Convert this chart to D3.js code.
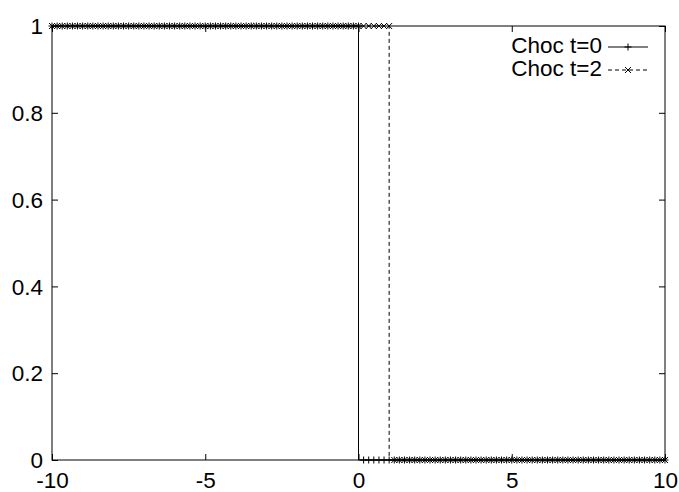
<!DOCTYPE html>
<html><head><meta charset="utf-8">
<script src="https://cdn.jsdelivr.net/npm/d3@7/dist/d3.min.js"></script>
<style>body{margin:0;background:#fff}svg{display:block}</style>
</head><body>
<script>
const xValues = [
-10,-9.833,-9.667,-9.5,-9.333,-9.167,
-9,-8.833,-8.667,-8.5,-8.333,-8.167,
-8,-7.833,-7.667,-7.5,-7.333,-7.167,
-7,-6.833,-6.667,-6.5,-6.333,-6.167,
-6,-5.833,-5.667,-5.5,-5.333,-5.167,
-5,-4.833,-4.667,-4.5,-4.333,-4.167,
-4,-3.833,-3.667,-3.5,-3.333,-3.167,
-3,-2.833,-2.667,-2.5,-2.333,-2.167,
-2,-1.833,-1.667,-1.5,-1.333,-1.167,
-1,-0.833,-0.667,-0.5,-0.333,-0.167,
0,0.167,0.333,0.5,0.667,0.833,
1,1.167,1.333,1.5,1.667,1.833,
2,2.167,2.333,2.5,2.667,2.833,
3,3.167,3.333,3.5,3.667,3.833,
4,4.167,4.333,4.5,4.667,4.833,
5,5.167,5.333,5.5,5.667,5.833,
6,6.167,6.333,6.5,6.667,6.833,
7,7.167,7.333,7.5,7.667,7.833,
8,8.167,8.333,8.5,8.667,8.833,
9,9.167,9.333,9.5,9.667,9.833,
10];
const chocT0 = [
1,1,1,1,1,1, 1,1,1,1,1,1, 1,1,1,1,1,1, 1,1,1,1,1,1, 1,1,1,1,1,1,
1,1,1,1,1,1, 1,1,1,1,1,1, 1,1,1,1,1,1, 1,1,1,1,1,1, 1,1,1,1,1,1,
1,0,0,0,0,0, 0,0,0,0,0,0, 0,0,0,0,0,0, 0,0,0,0,0,0, 0,0,0,0,0,0,
0,0,0,0,0,0, 0,0,0,0,0,0, 0,0,0,0,0,0, 0,0,0,0,0,0, 0,0,0,0,0,0,
0];
const chocT2 = [
1,1,1,1,1,1, 1,1,1,1,1,1, 1,1,1,1,1,1, 1,1,1,1,1,1, 1,1,1,1,1,1,
1,1,1,1,1,1, 1,1,1,1,1,1, 1,1,1,1,1,1, 1,1,1,1,1,1, 1,1,1,1,1,1,
1,1,1,1,1,1, 1,0,0,0,0,0, 0,0,0,0,0,0, 0,0,0,0,0,0, 0,0,0,0,0,0,
0,0,0,0,0,0, 0,0,0,0,0,0, 0,0,0,0,0,0, 0,0,0,0,0,0, 0,0,0,0,0,0,
0];
const seriesNames = ["Choc t=0", "Choc t=2"];
const xTicks = [-10, -5, 0, 5, 10];
const xTickLabels = ["-10", "-5", "0", "5", "10"];
const yTicks = [0, 0.2, 0.4, 0.6, 0.8, 1];
const yTickLabels = ["0", "0.2", "0.4", "0.6", "0.8", "1"];

const W = 679, H = 492;
const L = 52, R = 665, T = 26, B = 460;
const FONT = "'Liberation Sans', Arial, Helvetica, sans-serif";
const FS = 22.5;

const svg = d3.select("body").append("svg").attr("width", W).attr("height", H)
  .style("font-family", FONT);

const x = d3.scaleLinear().domain([-10, 10]).range([L, R]);
const y = d3.scaleLinear().domain([0, 1]).range([B, T]);

function styleAxis(g, showText) {
  g.select(".domain").remove();
  g.selectAll(".tick line").attr("stroke", "#000").attr("stroke-width", 1);
  g.selectAll(".tick text").attr("fill", "#000").style("font-size", FS + "px")
    .style("font-family", FONT);
  if (!showText) g.selectAll(".tick text").remove();
}

svg.append("g").attr("transform", `translate(${L},0)`)
  .call(d3.axisLeft(y).tickValues(yTicks).tickSize(-6).tickPadding(9)
    .tickFormat((d, i) => yTickLabels[i]))
  .call(g => styleAxis(g, true))
  .call(g => g.selectAll(".tick text").attr("dy", "0.34em"));
svg.append("g").attr("transform", `translate(${R},0)`)
  .call(d3.axisRight(y).tickValues(yTicks).tickSize(-6))
  .call(g => styleAxis(g, false));
svg.append("g").attr("transform", `translate(0,${B})`)
  .call(d3.axisBottom(x).tickValues(xTicks).tickSize(-6).tickPadding(12)
    .tickFormat((d, i) => xTickLabels[i]))
  .call(g => styleAxis(g, true))
  .call(g => g.selectAll(".tick text").attr("dy", "0.7em"));
svg.append("g").attr("transform", `translate(0,${T})`)
  .call(d3.axisTop(x).tickValues(xTicks).tickSize(-6))
  .call(g => styleAxis(g, false));

svg.append("rect").attr("x", L).attr("y", T).attr("width", R - L).attr("height", B - T)
  .attr("fill", "none").attr("stroke", "#000").attr("stroke-width", 1);

const line = d3.line().curve(d3.curveStepBefore).x(d => x(d[0])).y(d => y(d[1]));

function plus(g, cx, cy) {
  const s = 3.5;
  g.append("path").attr("d", `M${cx - s},${cy}H${cx + s}M${cx},${cy - s}V${cy + s}`)
    .attr("stroke", "#000").attr("stroke-width", 1).attr("fill", "none");
}
function cross(g, cx, cy) {
  const s = 3;
  g.append("path").attr("d", `M${cx - s},${cy - s}L${cx + s},${cy + s}M${cx - s},${cy + s}L${cx + s},${cy - s}`)
    .attr("stroke", "#000").attr("stroke-width", 1).attr("fill", "none");
}

const series = [
  { name: seriesNames[0], values: chocT0, dash: null, marker: plus },
  { name: seriesNames[1], values: chocT2, dash: "4,3", marker: cross }
];

series.forEach((s, si) => {
  const pts = xValues.map((xv, i) => [xv, s.values[i]]);
  const g = svg.append("g");
  g.append("path").attr("d", line(pts)).attr("fill", "none").attr("stroke", "#000")
    .attr("stroke-width", 1).attr("stroke-dasharray", s.dash);
  const mg = svg.append("g");
  pts.forEach(p => s.marker(mg, x(p[0]), y(p[1])));

  // legend
  const ly = 45 + si * 23;
  svg.append("text").attr("x", 602).attr("y", ly).attr("dy", "0.34em")
    .attr("text-anchor", "end").style("font-size", FS + "px").attr("fill", "#000")
    .text(s.name);
  svg.append("line").attr("x1", 608).attr("x2", 648).attr("y1", ly + 2).attr("y2", ly + 2)
    .attr("stroke", "#000").attr("stroke-width", 1).attr("stroke-dasharray", s.dash);
  s.marker(svg, 628, ly + 2);
});
</script>
</body></html>
